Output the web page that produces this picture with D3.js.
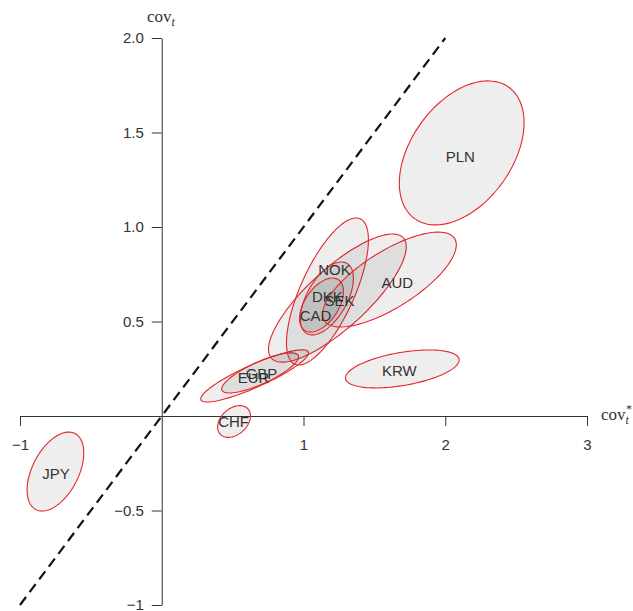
<!DOCTYPE html>
<html>
<head>
<meta charset="utf-8">
<script src="https://cdn.jsdelivr.net/npm/d3@7"></script>
<style>
  body { margin: 0; background: #fff; }
  svg { display: block; }
</style>
</head>
<body>
<div id="chart"></div>
<script>
// currencies and their confidence ellipses (data units: cov* on x, cov on y)
const currencies = ['JPY', 'CHF', 'EUR', 'GBP', 'SEK', 'NOK', 'DKK', 'CAD', 'AUD', 'KRW', 'PLN']
const centerX = [-0.75, 0.51, 0.655, 0.694, 1.239, 1.169, 1.165, 1.127, 1.606, 1.697, 2.116]
const centerY = [-0.294, -0.029, 0.212, 0.228, 0.624, 0.659, 0.622, 0.587, 0.722, 0.249, 1.392]
const spreadX = [0.2, 0.116, 0.38, 0.271, 0.486, 0.289, 0.187, 0.155, 0.472, 0.401, 0.44]
const spreadY = [0.209, 0.084, 0.138, 0.106, 0.339, 0.389, 0.193, 0.143, 0.251, 0.1005, 0.381]
const rho = [0.47, 0.35, 0.88, 0.8, 0.8, 0.7, 0.55, 0.5, 0.73, 0.47, 0.42]
// point estimates where the labels sit
const labelX = [-0.746, 0.507, 0.648, 0.704, 1.254, 1.218, 1.169, 1.085, 1.662, 1.676, 2.106]
const labelY = [-0.307, -0.032, 0.201, 0.222, 0.608, 0.772, 0.63, 0.529, 0.704, 0.238, 1.37]

const xTicks = [-1, 1, 2, 3]
const xTickLabels = ['\u22121', '1', '2', '3']
const yTicks = [-1, -0.5, 0.5, 1, 1.5, 2]
const yTickLabels = ['\u22121', '\u22120.5', '0.5', '1.0', '1.5', '2.0']

const width = 633
const height = 611

const svg = d3
  .select('#chart')
  .append('svg')
  .attr('width', width)
  .attr('height', height)

const xPositionScale = d3.scaleLinear().domain([-1, 3]).range([20, 587])
const yPositionScale = d3.scaleLinear().domain([-1, 2]).range([605, 38])

const datapoints = currencies.map((name, i) => ({
  name,
  cx: centerX[i],
  cy: centerY[i],
  sx: spreadX[i],
  sy: spreadY[i],
  rho: rho[i],
  lx: labelX[i],
  ly: labelY[i]
}))

const angles = d3.range(0, 2 * Math.PI, Math.PI / 60)

const ellipse = d3
  .line()
  .x(p => xPositionScale(p[0]))
  .y(p => yPositionScale(p[1]))
  .curve(d3.curveLinearClosed)

function ellipsePoints(d) {
  const k = Math.sqrt(1 - d.rho * d.rho)
  return angles.map(t => [
    d.cx + d.sx * Math.cos(t),
    d.cy + d.sy * (d.rho * Math.cos(t) + k * Math.sin(t))
  ])
}

const sans = '"Liberation Sans", Arial, sans-serif'

// axes
const xAxis = d3
  .axisBottom(xPositionScale)
  .tickValues(xTicks)
  .tickFormat((d, i) => xTickLabels[i])
  .tickSize(10)
  .tickSizeOuter(0)
  .tickPadding(13)

const yAxis = d3
  .axisLeft(yPositionScale)
  .tickValues(yTicks)
  .tickFormat((d, i) => yTickLabels[i])
  .tickSize(10)
  .tickSizeOuter(0)
  .tickPadding(8)

svg
  .append('g')
  .attr('class', 'axis x-axis')
  .attr('transform', `translate(0,${yPositionScale(0)})`)
  .call(xAxis)

svg
  .append('g')
  .attr('class', 'axis y-axis')
  .attr('transform', `translate(${xPositionScale(0)},0)`)
  .call(yAxis)

svg.selectAll('.axis path, .axis line').attr('stroke', '#333')
svg
  .selectAll('.axis text')
  .attr('fill', '#333')
  .style('font-family', sans)
  .style('font-size', '15px')

// 45 degree line
svg
  .append('line')
  .attr('x1', xPositionScale(-1))
  .attr('y1', yPositionScale(-1))
  .attr('x2', xPositionScale(2))
  .attr('y2', yPositionScale(2))
  .attr('stroke', '#111')
  .attr('stroke-width', 2.2)
  .attr('stroke-dasharray', '10,6')

// ellipses
svg
  .selectAll('.ellipse')
  .data(datapoints)
  .enter()
  .append('path')
  .attr('class', 'ellipse')
  .attr('d', d => ellipse(ellipsePoints(d)))
  .attr('fill', '#000')
  .attr('fill-opacity', 0.065)
  .attr('stroke', '#e5262b')
  .attr('stroke-width', 1.1)

svg
  .selectAll('.label')
  .data(datapoints)
  .enter()
  .append('text')
  .attr('class', 'label')
  .attr('x', d => xPositionScale(d.lx))
  .attr('y', d => yPositionScale(d.ly))
  .attr('text-anchor', 'middle')
  .attr('dy', '0.36em')
  .attr('fill', '#333')
  .style('font-family', sans)
  .style('font-size', '15px')
  .text(d => d.name)

// axis titles
const serif = '"Liberation Serif", "Times New Roman", serif'

const yTitle = svg
  .append('text')
  .attr('x', 147)
  .attr('y', 22)
  .attr('fill', '#333')
  .style('font-family', serif)
  .style('font-size', '17px')
yTitle.append('tspan').text('cov')
yTitle
  .append('tspan')
  .attr('dy', 4)
  .style('font-style', 'italic')
  .style('font-size', '12px')
  .text('t')

const xTitle = svg
  .append('text')
  .attr('x', 601)
  .attr('y', 420)
  .attr('fill', '#333')
  .style('font-family', serif)
  .style('font-size', '17px')
xTitle.append('tspan').text('cov')
xTitle
  .append('tspan')
  .attr('dy', 4)
  .style('font-style', 'italic')
  .style('font-size', '12px')
  .text('t')
xTitle
  .append('tspan')
  .attr('dx', -3)
  .attr('dy', -11)
  .style('font-size', '12px')
  .text('*')
</script>
</body>
</html>
